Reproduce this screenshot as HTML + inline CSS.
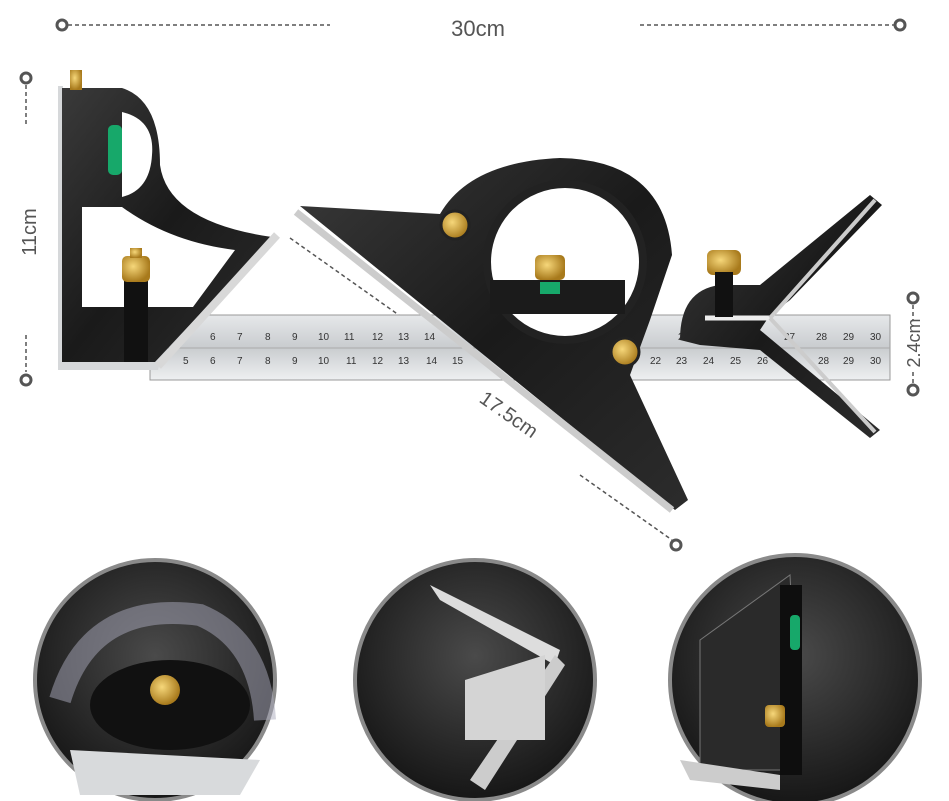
<!DOCTYPE html>
<html><head><meta charset="utf-8"><style>
html,body{margin:0;padding:0;background:#fff;}
svg{display:block;font-family:"Liberation Sans",sans-serif;}
</style></head><body>
<svg width="949" height="801" viewBox="0 0 949 801" xmlns="http://www.w3.org/2000/svg">
<defs>
<linearGradient id="steel" x1="0" y1="0" x2="0" y2="1">
<stop offset="0" stop-color="#e6e8ea"/><stop offset="0.5" stop-color="#c9cccf"/><stop offset="1" stop-color="#eef0f1"/>
</linearGradient>
<linearGradient id="blk" x1="0" y1="0" x2="1" y2="1">
<stop offset="0" stop-color="#3a3a3a"/><stop offset="0.5" stop-color="#1a1a1a"/><stop offset="1" stop-color="#2c2c2c"/>
</linearGradient>
<radialGradient id="circ" cx="0.5" cy="0.4" r="0.6">
<stop offset="0" stop-color="#4a4a4a"/><stop offset="1" stop-color="#161616"/>
</radialGradient>
<radialGradient id="brass" cx="0.4" cy="0.4" r="0.6">
<stop offset="0" stop-color="#f6d77a"/><stop offset="1" stop-color="#a87a1c"/>
</radialGradient>
</defs>
<g stroke="#555" stroke-width="1.5" fill="none" stroke-dasharray="4,3">
<line x1="68" y1="25" x2="330" y2="25"/>
<line x1="640" y1="25" x2="894" y2="25"/>
<line x1="26" y1="85" x2="26" y2="125"/>
<line x1="26" y1="335" x2="26" y2="372"/>
<line x1="913" y1="305" x2="913" y2="320"/>
<line x1="913" y1="372" x2="913" y2="383"/>
<line x1="290" y1="238" x2="420" y2="330"/>
<line x1="580" y1="475" x2="672" y2="540"/>
</g>
<g stroke="#555" stroke-width="3" fill="#fff">
<circle cx="62" cy="25" r="5"/><circle cx="900" cy="25" r="5"/>
<circle cx="26" cy="78" r="5"/><circle cx="26" cy="380" r="5"/>
<circle cx="913" cy="298" r="5"/><circle cx="913" cy="390" r="5"/>
<circle cx="676" cy="545" r="5"/>
</g>
<text x="478" y="36" font-size="22" fill="#555" text-anchor="middle">30cm</text>
<text transform="translate(36,232) rotate(-90)" font-size="20" fill="#555" text-anchor="middle">11cm</text>
<text transform="translate(920,343) rotate(-90)" font-size="18" fill="#555" text-anchor="middle">2.4cm</text>
<text transform="translate(505,420) rotate(35)" font-size="20" fill="#555" text-anchor="middle">17.5cm</text>

<rect x="150" y="315" width="740" height="65" fill="url(#steel)" stroke="#999"/>
<line x1="150" y1="348" x2="890" y2="348" stroke="#aaa"/>
<g font-size="10" fill="#333">
<text x="210" y="340">6</text><text x="237" y="340">7</text><text x="265" y="340">8</text><text x="292" y="340">9</text><text x="318" y="340">10</text><text x="344" y="340">11</text><text x="372" y="340">12</text><text x="398" y="340">13</text><text x="424" y="340">14</text>
<text x="183" y="364">5</text><text x="210" y="364">6</text><text x="237" y="364">7</text><text x="265" y="364">8</text><text x="292" y="364">9</text><text x="318" y="364">10</text><text x="346" y="364">11</text><text x="372" y="364">12</text><text x="398" y="364">13</text><text x="426" y="364">14</text><text x="452" y="364">15</text>
<text x="650" y="364">22</text><text x="676" y="364">23</text><text x="703" y="364">24</text><text x="730" y="364">25</text><text x="757" y="364">26</text><text x="818" y="364">28</text><text x="843" y="364">29</text><text x="870" y="364">30</text>
<text x="678" y="340">23</text><text x="704" y="340">24</text><text x="784" y="340">27</text><text x="816" y="340">28</text><text x="843" y="340">29</text><text x="870" y="340">30</text>
</g>

<!-- left square head -->
<path d="M58 86 L63 86 L63 362 L160 362 L158 370 L58 370 Z" fill="#d6d8da"/>
<path d="M62 88 L122 88 Q160 100 160 165 Q168 222 272 237 L155 362 L62 362 Z" fill="url(#blk)"/>
<line x1="277" y1="235" x2="158" y2="366" stroke="#d8d8d8" stroke-width="8"/>
<path d="M82 207 L122 207 Q170 242 235 250 L193 307 L82 307 Z" fill="#fff"/>
<path d="M122 112 Q155 120 152 155 Q150 190 122 197 Z" fill="#fff"/>
<rect x="108" y="125" width="14" height="50" rx="5" fill="#17a86a"/>
<rect x="124" y="270" width="24" height="92" fill="#111"/>
<rect x="122" y="256" width="28" height="26" rx="5" fill="url(#brass)"/>
<rect x="130" y="248" width="12" height="10" fill="url(#brass)"/>
<rect x="70" y="70" width="12" height="20" fill="url(#brass)"/>

<!-- protractor head -->
<path d="M300 206 L440 214 Q470 162 560 158 Q665 160 672 255 L650 320 L630 375 L688 500 L675 510 Z" fill="url(#blk)"/>
<path d="M296 212 L672 510" stroke="#ccc" stroke-width="7"/>
<circle cx="565" cy="262" r="78" fill="#fff"/>
<circle cx="565" cy="262" r="78" fill="none" stroke="#222" stroke-width="8"/>
<rect x="490" y="280" width="135" height="34" fill="#1b1b1b"/>
<rect x="535" y="255" width="30" height="25" rx="5" fill="url(#brass)"/>
<rect x="540" y="282" width="20" height="12" fill="#17a86a"/>
<circle cx="455" cy="225" r="14" fill="url(#brass)" stroke="#222" stroke-width="3"/>
<circle cx="625" cy="352" r="14" fill="url(#brass)" stroke="#222" stroke-width="3"/>

<!-- center head -->
<path d="M680 340 Q680 290 720 285 L760 285 L870 195 L882 205 L790 300 L770 315 L760 330 L880 430 L870 438 L760 350 L700 345 Z" fill="url(#blk)"/>
<path d="M705 318 L770 318" stroke="#eee" stroke-width="5"/>
<path d="M770 318 L875 200 M770 318 L875 432" stroke="#ccc" stroke-width="4"/>
<rect x="707" y="250" width="34" height="25" rx="6" fill="url(#brass)"/>
<rect x="715" y="272" width="18" height="45" fill="#111"/>

<g stroke="#8a8a8a" stroke-width="4">
<circle cx="155" cy="680" r="120" fill="url(#circ)"/>
<circle cx="475" cy="680" r="120" fill="url(#circ)"/>
<circle cx="795" cy="680" r="125" fill="url(#circ)"/>
</g>
<path d="M60 700 Q90 600 200 615 Q260 640 265 720" fill="none" stroke="#aab" stroke-width="22" opacity="0.5"/>
<ellipse cx="170" cy="705" rx="80" ry="45" fill="#111"/>
<path d="M70 750 L260 760 L240 795 L80 795 Z" fill="#d8dadc"/>
<circle cx="165" cy="690" r="15" fill="url(#brass)"/>
<path d="M430 585 L560 650 L555 665 L440 600 Z" fill="#ddd"/>
<path d="M555 655 L470 780 L485 790 L565 665 Z" fill="#ccc"/>
<path d="M465 680 L545 655 L545 740 L465 740 Z" fill="#d4d4d4"/>
<path d="M700 640 L790 575 L800 770 L700 770 Z" fill="#2a2a2a" stroke="#777"/>
<rect x="780" y="585" width="22" height="190" fill="#0e0e0e"/>
<rect x="790" y="615" width="10" height="35" rx="4" fill="#17a86a"/>
<rect x="765" y="705" width="20" height="22" rx="4" fill="url(#brass)"/>
<path d="M680 760 L780 775 L780 790 L690 780 Z" fill="#ccc"/>
</svg>
</body></html>
